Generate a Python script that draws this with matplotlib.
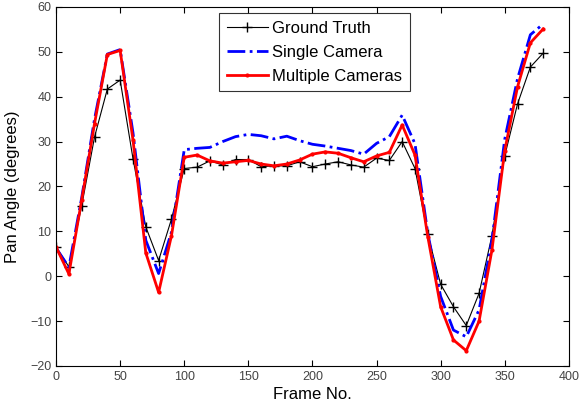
import matplotlib
matplotlib.use("Agg")
import matplotlib.pyplot as plt
import numpy as np

plt.rcParams['font.family'] = ['Liberation Sans', 'DejaVu Sans']

frames = np.arange(0, 381, 10)

ground_truth = [6.5, 2.1, 15.7, 31.0, 41.7, 43.7, 26.2, 11.0, 3.5, 12.7,
                24.0, 24.3, 25.7, 24.8, 26.0, 26.0, 24.4, 24.6, 24.6, 25.5,
                24.4, 25.0, 25.5, 24.8, 24.3, 26.3, 25.8, 30.0, 24.0, 9.3,
                -1.8, -6.8, -11.0, -3.8, 9.0, 26.8, 38.4, 46.6, 49.7]

single_camera = [6.3, 2.0, 17.5, 35.0, 49.5, 50.5, 32.0, 8.0, 0.6, 9.8,
                 28.2, 28.5, 28.7, 30.0, 31.1, 31.6, 31.3, 30.6, 31.2, 30.2,
                 29.4, 29.0, 28.5, 28.0, 27.2, 29.6, 31.1, 35.9, 29.5, 9.5,
                 -4.5, -12.0, -13.5, -7.5, 8.0, 30.5, 44.0, 53.8, 56.2]

multiple_cameras = [6.5, 0.5, 17.0, 34.0, 49.4, 50.3, 30.4, 5.2, -3.6, 9.0,
                    26.5, 27.0, 25.7, 25.2, 25.5, 25.8, 25.0, 24.6, 25.0, 25.9,
                    27.2, 27.7, 27.4, 26.4, 25.5, 26.8, 27.6, 33.7, 27.0, 8.8,
                    -6.8, -14.2, -16.6, -10.0, 5.8, 28.0, 42.2, 52.0, 55.1]

fig = plt.figure(figsize=(5.84, 4.08), dpi=100)
ax = fig.add_axes([0.096, 0.103, 0.878, 0.880])

ax.plot(frames, ground_truth, 'k-', marker='+', markersize=7, linewidth=0.8,
        label='Ground Truth')
ax.plot(frames, single_camera, color='blue', linestyle='-.', linewidth=2,
        label='Single Camera')
ax.plot(frames, multiple_cameras, color='red', linestyle='-', marker='.',
        markersize=4, linewidth=2, label='Multiple Cameras')

ax.set_xlim(0, 400)
ax.set_ylim(-20, 60)
ax.set_xticks(np.arange(0, 401, 50))
ax.set_yticks(np.arange(-20, 61, 10))
ax.tick_params(direction='in', top=True, right=True, labelsize=9,
               labelcolor='#444444', length=4)
for s in ax.spines.values():
    s.set_linewidth(0.8)

ax.set_xlabel('Frame No.', fontsize=12, labelpad=3)
ax.set_ylabel('Pan Angle (degrees)', fontsize=12, labelpad=7)

leg = ax.legend(loc='upper left', bbox_to_anchor=(0.318, 0.983), fontsize=12,
                frameon=True, fancybox=False, edgecolor='black',
                borderpad=0.45, labelspacing=0.55, handlelength=2.5,
                handletextpad=0.25, borderaxespad=0)
leg.get_frame().set_linewidth(0.8)

fig.savefig('out.png', dpi=100)
